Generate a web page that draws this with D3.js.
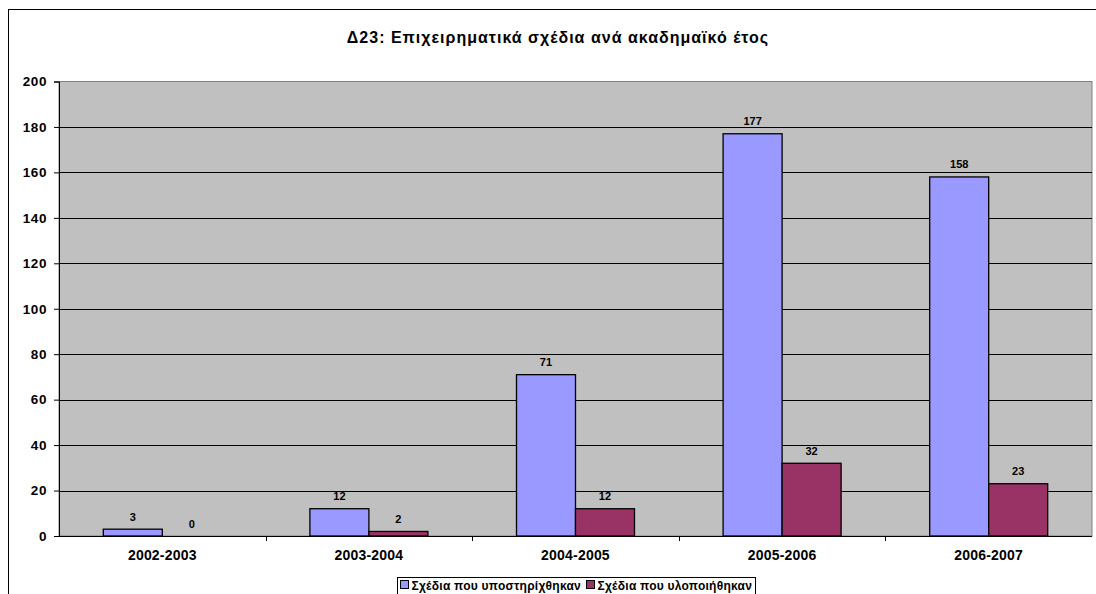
<!DOCTYPE html>
<html>
<head>
<meta charset="utf-8">
<script src="https://cdn.jsdelivr.net/npm/d3@7"></script>
<style>
  body { margin: 0; background: #fff; }
  svg { display: block; font-family: "Liberation Sans", Arial, sans-serif; font-weight: bold; }
</style>
</head>
<body>
<svg id="chart" width="1096" height="594"></svg>
<script>
// chart data
const years = ['2002-2003', '2003-2004', '2004-2005', '2005-2006', '2006-2007'];
const supported = [3, 12, 71, 177, 158];
const implemented = [0, 2, 12, 32, 23];
const seriesNames = ['Σχέδια που υποστηρίχθηκαν', 'Σχέδια που υλοποιήθηκαν'];
const seriesColors = ['#9999FF', '#993366'];
const yTicks = [0, 20, 40, 60, 80, 100, 120, 140, 160, 180, 200];

const svg = d3.select('#chart');
const plot = { left: 59, top: 81.5, right: 1092, bottom: 536 };

// outer chart frame (continues past the right and bottom edge)
svg.append('rect')
  .attr('x', 8.5).attr('y', 9.5)
  .attr('width', 1099).attr('height', 600)
  .attr('fill', '#fff').attr('stroke', '#000');

svg.append('text')
  .attr('x', 558).attr('y', 43)
  .attr('text-anchor', 'middle')
  .attr('font-size', 16)
  .attr('letter-spacing', 1)
  .text('Δ23: Επιχειρηματικά σχέδια ανά ακαδημαϊκό έτος');

const x0 = d3.scaleBand()
  .domain(years)
  .range([plot.left, plot.right]);
const groupGap = 44.3;
const x1 = d3.scaleBand()
  .domain([0, 1])
  .range([groupGap, x0.bandwidth() - groupGap]);
const y = d3.scaleLinear()
  .domain([0, 200])
  .range([plot.bottom, plot.top]);

// plot background
svg.append('rect')
  .attr('x', plot.left).attr('y', plot.top)
  .attr('width', plot.right - plot.left).attr('height', plot.bottom - plot.top)
  .attr('fill', '#C0C0C0').attr('stroke', '#808080');

// gridlines
svg.append('g')
  .selectAll('line')
  .data(yTicks.filter(d => d > 0 && d < 200))
  .join('line')
  .attr('x1', plot.left).attr('x2', plot.right)
  .attr('y1', d => Math.round(y(d)) + 0.5).attr('y2', d => Math.round(y(d)) + 0.5)
  .attr('stroke', '#000');

// bars
const rows = years.map((yr, i) => ({ year: yr, values: [supported[i], implemented[i]] }));
const groups = svg.append('g')
  .selectAll('g')
  .data(rows)
  .join('g')
  .attr('transform', d => `translate(${x0(d.year)},0)`);

groups.selectAll('rect')
  .data(d => d.values.map((v, k) => ({ k, v })))
  .join('rect')
  .filter(d => d.v > 0)
  .attr('x', d => x1(d.k))
  .attr('y', d => y(d.v))
  .attr('width', x1.bandwidth())
  .attr('height', d => plot.bottom - y(d.v))
  .attr('fill', d => seriesColors[d.k])
  .attr('stroke', '#000')
  .attr('stroke-width', 1.3);

groups.selectAll('text')
  .data(d => d.values.map((v, k) => ({ k, v })))
  .join('text')
  .attr('x', d => x1(d.k) + x1.bandwidth() / 2)
  .attr('y', d => y(d.v) - 8.5)
  .attr('text-anchor', 'middle')
  .attr('font-size', 11)
  .text(d => d.v);

// y axis
const yAxis = svg.append('g')
  .attr('transform', `translate(${plot.left},0)`)
  .call(d3.axisLeft(y).tickValues(yTicks).tickSize(5).tickPadding(7));
yAxis.select('.domain').attr('stroke', '#000');
yAxis.selectAll('text')
  .attr('font-size', 13.5)
  .attr('letter-spacing', 0.6)
  .attr('font-family', null)
  .attr('fill', '#000');

// x axis: ticks between categories
const xAxis = svg.append('g')
  .attr('transform', `translate(0,${plot.bottom})`);
xAxis.append('line')
  .attr('x1', plot.left).attr('x2', plot.right)
  .attr('y1', 0.5).attr('y2', 0.5)
  .attr('stroke', '#000');
xAxis.selectAll('.sep')
  .data(years.slice(1))
  .join('line')
  .attr('class', 'sep')
  .attr('x1', d => Math.round(x0(d)) + 0.5).attr('x2', d => Math.round(x0(d)) + 0.5)
  .attr('y1', 0).attr('y2', 5)
  .attr('stroke', '#000');
xAxis.selectAll('text')
  .data(years)
  .join('text')
  .attr('x', d => x0(d) + x0.bandwidth() / 2)
  .attr('y', 24)
  .attr('text-anchor', 'middle')
  .attr('font-size', 14)
  .attr('letter-spacing', 0.2)
  .text(d => d);

// legend
const legend = svg.append('g').attr('transform', 'translate(397.5,577.5)');
legend.append('rect')
  .attr('width', 358).attr('height', 24)
  .attr('fill', '#fff').attr('stroke', '#000');
const legendX = [3, 189];
const items = legend.selectAll('g')
  .data(seriesNames)
  .join('g')
  .attr('transform', (d, i) => `translate(${legendX[i]},3)`);
items.append('rect')
  .attr('width', 8).attr('height', 8)
  .attr('fill', (d, i) => seriesColors[i])
  .attr('stroke', '#000');
items.append('text')
  .attr('x', 11).attr('y', 9)
  .attr('font-size', 12)
  .attr('letter-spacing', 0.25)
  .text(d => d);
</script>
</body>
</html>
